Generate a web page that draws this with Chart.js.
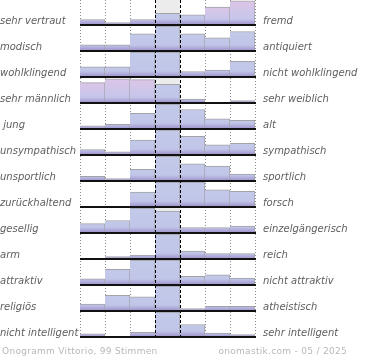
<!DOCTYPE html>
<html>
<head>
<meta charset="utf-8">
<script src="https://cdn.jsdelivr.net/npm/chart.js@4"></script>
<style>
  body { margin: 0; background: #fff; }
  #wrap { position: relative; width: 370px; height: 360px; }
  .foot { position: absolute; top: 346px; font: 9px "DejaVu Sans", sans-serif; letter-spacing: 0.3px; color: #b8b8b8; white-space: nowrap; }
  #foot-left { left: 2px; }
  #foot-right { right: 23px; }
</style>
</head>
<body>
<div id="wrap">
  <canvas id="onogramm"></canvas>
  <div class="foot" id="foot-left"></div>
  <div class="foot" id="foot-right"></div>
</div>
<script>
// Step 1: the data
const columns = ["1", "2", "3", "4", "5", "6", "7"];

const leftLabels = ["sehr vertraut", "modisch", "wohlklingend", "sehr männlich", " jung", "unsympathisch",
  "unsportlich", "zurückhaltend", "gesellig", "arm", "attraktiv", "religiös", "nicht intelligent"];

const rightLabels = ["fremd", "antiquiert", "nicht wohlklingend", "sehr weiblich", "alt", "sympathisch",
  "sportlich", "forsch", "einzelgängerisch", "reich", "nicht attraktiv", "atheistisch", "sehr intelligent"];

// votes per row, one number per column (left pole -> right pole)
const votes = [
  [7, 3, 7, 15, 13, 23, 31],
  [8, 8, 22, 36, 22, 17, 25],
  [13, 13, 34, 34, 7, 9, 20],
  [26, 31, 30, 24, 5, 0, 3],
  [4, 6, 20, 36, 25, 13, 11],
  [7, 4, 19, 38, 24, 13, 15],
  [6, 3, 15, 40, 22, 19, 9],
  [1, 0, 19, 36, 33, 22, 20],
  [12, 16, 36, 28, 7, 7, 9],
  [1, 3, 5, 38, 10, 7, 7],
  [8, 20, 35, 34, 11, 13, 9],
  [9, 20, 18, 40, 3, 6, 6],
  [4, 0, 6, 36, 16, 5, 3]
];

// a full row height stands for this many votes, taller bars get cut off
const rowMax = 32;

const footLeft = "Onogramm Vittorio, 99 Stimmen";
const footRight = "onomastik.com - 05 / 2025";

document.getElementById("foot-left").textContent = footLeft;
document.getElementById("foot-right").textContent = footRight;

// Step 2: helpers
const barRoom = 25 / 26;   // part of a row the bars may use
const mid = 3;             // index of the neutral column

function isPink(row, col) {
  const v = votes[row][col];
  return v > votes[row][mid] && v <= rowMax;
}

function barFill(c) {
  const chart = c.chart;
  const y = chart.scales.y;
  if (!chart.chartArea || !y || !Array.isArray(c.raw)) return "#c3c9e9";
  const yBase = y.getPixelForValue(c.raw[0]);
  const yTop = y.getPixelForValue(c.raw[1]);
  const h = Math.max(yBase - yTop, 1);
  const g = chart.ctx.createLinearGradient(0, yTop, 0, yBase);
  const band = Math.min(1, 6 / h);
  if (isPink(c.datasetIndex, c.dataIndex)) {
    g.addColorStop(0, "#dcc5e7");
    g.addColorStop(Math.max(0, 1 - band), "#c6c6ea");
  } else {
    g.addColorStop(0, "#c3c9e9");
    g.addColorStop(Math.max(0, 1 - band), "#c1c6e8");
  }
  g.addColorStop(1, "#9d8fcc");
  return g;
}

// one dataset per row, floating bars that stand on the row's baseline
const datasets = votes.map((row, r) => ({
  label: leftLabels[r],
  data: row.map(v => {
    const base = r + barRoom;
    return [base, base - Math.min(v, rowMax) / rowMax * barRoom];
  }),
  yAxisID: "y",
  grouped: false,
  categoryPercentage: 1,
  barPercentage: 1,
  backgroundColor: barFill,
  borderColor: "#a2a2a8",
  borderWidth: { top: 1, right: 1, bottom: 0, left: 0 },
  borderSkipped: false
}));

// grid lines, gray middle column and row baselines
const gridPlugin = {
  id: "onoGrid",
  beforeDatasetsDraw(chart) {
    const { ctx, chartArea: a } = chart;
    const w = a.width / columns.length;
    ctx.save();
    ctx.fillStyle = "#ececec";
    ctx.fillRect(a.left + mid * w, a.top, w, a.height);
    ctx.strokeStyle = "#8c8c8c";
    ctx.lineWidth = 1;
    ctx.setLineDash([1, 2]);
    for (let k = 0; k <= columns.length; k++) {
      if (k === mid || k === mid + 1) continue;
      const x = Math.round(a.left + k * w) + 0.5;
      ctx.beginPath();
      ctx.moveTo(x, a.top);
      ctx.lineTo(x, a.bottom);
      ctx.stroke();
    }
    ctx.restore();
  },
  afterDatasetsDraw(chart) {
    const { ctx, chartArea: a, scales: { y } } = chart;
    const w = a.width / columns.length;
    ctx.save();
    ctx.strokeStyle = "#000";
    ctx.lineWidth = 1;
    ctx.setLineDash([3, 2]);
    [mid, mid + 1].forEach(k => {
      const x = Math.round(a.left + k * w) + 0.5;
      ctx.beginPath();
      ctx.moveTo(x, a.top);
      ctx.lineTo(x, a.bottom);
      ctx.stroke();
    });
    ctx.setLineDash([]);
    ctx.strokeStyle = "#111";
    ctx.lineWidth = 2;
    votes.forEach((row, r) => {
      const yy = Math.round(y.getPixelForValue(r + barRoom));
      ctx.beginPath();
      ctx.moveTo(a.left, yy);
      ctx.lineTo(a.right + 1, yy);
      ctx.stroke();
    });
    ctx.restore();
  }
};

const labelFont = { family: "'DejaVu Sans', sans-serif", size: 10, style: "italic" };

// axes carry the pole labels; no extra padding so rows start at the top
function fitSide(width) {
  return s => {
    s.width = width;
    s.paddingTop = 0;
    s.paddingBottom = 0;
  };
}

const onoChart = new Chart(document.getElementById("onogramm"), {
  type: "bar",
  data: { labels: columns, datasets: datasets },
  plugins: [gridPlugin],
  options: {
    responsive: true,
    maintainAspectRatio: false,
    animation: false,
    events: [],
    layout: { padding: { left: 0, right: 0, top: 0, bottom: 22 } },
    plugins: { legend: { display: false }, tooltip: { enabled: false } },
    scales: {
      x: { display: false, offset: true },
      y: {
        type: "linear",
        position: "left",
        reverse: true,
        min: 0,
        max: votes.length,
        afterFit: fitSide(80),
        afterBuildTicks(s) { s.ticks = leftLabels.map((_, i) => ({ value: i + 0.82 })); },
        ticks: {
          autoSkip: false,
          crossAlign: "far",
          padding: 0,
          color: "#5e5e5e",
          font: labelFont,
          callback: (v, i) => leftLabels[i]
        },
        grid: { display: false, drawTicks: false },
        border: { display: false }
      },
      yRight: {
        type: "linear",
        position: "right",
        reverse: true,
        min: 0,
        max: votes.length,
        afterFit: fitSide(115),
        afterBuildTicks(s) { s.ticks = rightLabels.map((_, i) => ({ value: i + 0.82 })); },
        ticks: {
          autoSkip: false,
          crossAlign: "near",
          padding: 8,
          color: "#5e5e5e",
          font: labelFont,
          callback: (v, i) => rightLabels[i]
        },
        grid: { display: false, drawTicks: false },
        border: { display: false }
      }
    }
  }
});
</script>
</body>
</html>
